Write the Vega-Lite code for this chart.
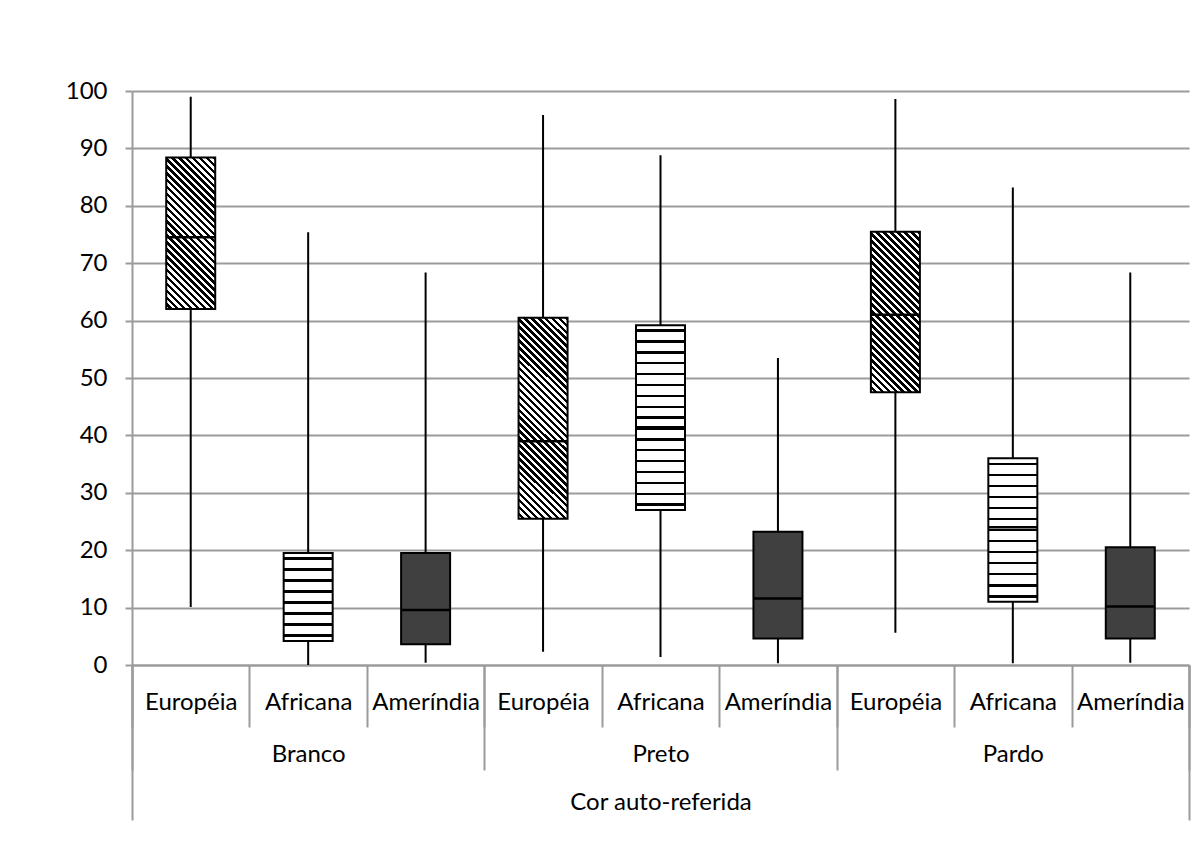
{
"$schema":"https://vega.github.io/schema/vega-lite/v6.json",
"width":1057,"height":574,
"padding":{"left":65,"top":79,"right":8,"bottom":5},
"background":"white",
"config":{"font":"Lato","view":{"stroke":null},"axis":{"labelFont":"Lato","labelColor":"#000","labelLimit":0}},
"data":{"values":[
{"grupo":"Branco","ancestria":"Européia","key":"Branco|Européia","min":10.1,"q1":62,"med":74.5,"q3":88.4,"max":99},
{"grupo":"Branco","ancestria":"Africana","key":"Branco|Africana","min":0,"q1":4.2,"med":10.9,"q3":19.5,"max":75.4},
{"grupo":"Branco","ancestria":"Ameríndia","key":"Branco|Ameríndia","min":0.4,"q1":3.6,"med":9.6,"q3":19.5,"max":68.4},
{"grupo":"Preto","ancestria":"Européia","key":"Preto|Européia","min":2.3,"q1":25.5,"med":39,"q3":60.5,"max":95.8},
{"grupo":"Preto","ancestria":"Africana","key":"Preto|Africana","min":1.4,"q1":27,"med":41.4,"q3":59.2,"max":88.8},
{"grupo":"Preto","ancestria":"Ameríndia","key":"Preto|Ameríndia","min":0.3,"q1":4.6,"med":11.6,"q3":23.2,"max":53.5},
{"grupo":"Pardo","ancestria":"Européia","key":"Pardo|Européia","min":5.6,"q1":47.5,"med":61,"q3":75.5,"max":98.6},
{"grupo":"Pardo","ancestria":"Africana","key":"Pardo|Africana","min":0.3,"q1":11,"med":24,"q3":36,"max":83.2},
{"grupo":"Pardo","ancestria":"Ameríndia","key":"Pardo|Ameríndia","min":0.4,"q1":4.6,"med":10.2,"q3":20.5,"max":68.4}
]},
"layer":[
{"layer":[
{"mark":{"type":"rule","color":"#000","strokeWidth":2},
 "encoding":{
  "x":{"field":"key","type":"nominal","scale":{"type":"band","domain":["Branco|Européia","Branco|Africana","Branco|Ameríndia","Preto|Européia","Preto|Africana","Preto|Ameríndia","Pardo|Européia","Pardo|Africana","Pardo|Ameríndia"],"paddingInner":0,"paddingOuter":0},
   "axis":{"orient":"bottom","title":null,"labelExpr":"split(datum.label,'|')[1]","labelAngle":0,"labelFontSize":24,"labelPadding":-37,"labelOverlap":false,"labelLimit":0,"tickBand":"extent","tickSize":62,"tickColor":"#9b9b9b","tickWidth":2,"domainColor":"#9b9b9b","domainWidth":2,"grid":false}},
  "y":{"field":"min","type":"quantitative","scale":{"domain":[0,100],"nice":false,"zero":true},
   "axis":{"title":null,"values":[0,10,20,30,40,50,60,70,80,90,100],"grid":true,"gridColor":"#9b9b9b","gridWidth":2,"domainColor":"#9b9b9b","domainWidth":2,"tickColor":"#9b9b9b","tickWidth":2,"tickSize":7,"labelPadding":18,"labelFontSize":24}},
  "y2":{"field":"max"}}},
{"transform":[{"filter":"datum.key==='Branco|Européia'"}],
 "mark":{"type":"bar","stroke":"#000","strokeWidth":2,"fill":{"gradient":"linear","x1":0,"y1":1,"x2":0.3875,"y2":-0.1981,"stops":[
{"offset":0,"color":"#fff"},{"offset":0.0172,"color":"#fff"},{"offset":0.0172,"color":"#000"},{"offset":0.0345,"color":"#000"},
{"offset":0.0345,"color":"#fff"},{"offset":0.0517,"color":"#fff"},{"offset":0.0517,"color":"#000"},{"offset":0.0690,"color":"#000"},
{"offset":0.0690,"color":"#fff"},{"offset":0.0862,"color":"#fff"},{"offset":0.0862,"color":"#000"},{"offset":0.1034,"color":"#000"},
{"offset":0.1034,"color":"#fff"},{"offset":0.1207,"color":"#fff"},{"offset":0.1207,"color":"#000"},{"offset":0.1379,"color":"#000"},
{"offset":0.1379,"color":"#fff"},{"offset":0.1552,"color":"#fff"},{"offset":0.1552,"color":"#000"},{"offset":0.1724,"color":"#000"},
{"offset":0.1724,"color":"#fff"},{"offset":0.1897,"color":"#fff"},{"offset":0.1897,"color":"#000"},{"offset":0.2069,"color":"#000"},
{"offset":0.2069,"color":"#fff"},{"offset":0.2241,"color":"#fff"},{"offset":0.2241,"color":"#000"},{"offset":0.2414,"color":"#000"},
{"offset":0.2414,"color":"#fff"},{"offset":0.2586,"color":"#fff"},{"offset":0.2586,"color":"#000"},{"offset":0.2759,"color":"#000"},
{"offset":0.2759,"color":"#fff"},{"offset":0.2931,"color":"#fff"},{"offset":0.2931,"color":"#000"},{"offset":0.3103,"color":"#000"},
{"offset":0.3103,"color":"#fff"},{"offset":0.3276,"color":"#fff"},{"offset":0.3276,"color":"#000"},{"offset":0.3448,"color":"#000"},
{"offset":0.3448,"color":"#fff"},{"offset":0.3621,"color":"#fff"},{"offset":0.3621,"color":"#000"},{"offset":0.3793,"color":"#000"},
{"offset":0.3793,"color":"#fff"},{"offset":0.3966,"color":"#fff"},{"offset":0.3966,"color":"#000"},{"offset":0.4138,"color":"#000"},
{"offset":0.4138,"color":"#fff"},{"offset":0.4310,"color":"#fff"},{"offset":0.4310,"color":"#000"},{"offset":0.4483,"color":"#000"},
{"offset":0.4483,"color":"#fff"},{"offset":0.4655,"color":"#fff"},{"offset":0.4655,"color":"#000"},{"offset":0.4828,"color":"#000"},
{"offset":0.4828,"color":"#fff"},{"offset":0.5,"color":"#fff"},{"offset":0.5,"color":"#000"},{"offset":0.5172,"color":"#000"},
{"offset":0.5172,"color":"#fff"},{"offset":0.5345,"color":"#fff"},{"offset":0.5345,"color":"#000"},{"offset":0.5517,"color":"#000"},
{"offset":0.5517,"color":"#fff"},{"offset":0.5690,"color":"#fff"},{"offset":0.5690,"color":"#000"},{"offset":0.5862,"color":"#000"},
{"offset":0.5862,"color":"#fff"},{"offset":0.6034,"color":"#fff"},{"offset":0.6034,"color":"#000"},{"offset":0.6207,"color":"#000"},
{"offset":0.6207,"color":"#fff"},{"offset":0.6379,"color":"#fff"},{"offset":0.6379,"color":"#000"},{"offset":0.6552,"color":"#000"},
{"offset":0.6552,"color":"#fff"},{"offset":0.6724,"color":"#fff"},{"offset":0.6724,"color":"#000"},{"offset":0.6897,"color":"#000"},
{"offset":0.6897,"color":"#fff"},{"offset":0.7069,"color":"#fff"},{"offset":0.7069,"color":"#000"},{"offset":0.7241,"color":"#000"},
{"offset":0.7241,"color":"#fff"},{"offset":0.7414,"color":"#fff"},{"offset":0.7414,"color":"#000"},{"offset":0.7586,"color":"#000"},
{"offset":0.7586,"color":"#fff"},{"offset":0.7759,"color":"#fff"},{"offset":0.7759,"color":"#000"},{"offset":0.7931,"color":"#000"},
{"offset":0.7931,"color":"#fff"},{"offset":0.8103,"color":"#fff"},{"offset":0.8103,"color":"#000"},{"offset":0.8276,"color":"#000"},
{"offset":0.8276,"color":"#fff"},{"offset":0.8448,"color":"#fff"},{"offset":0.8448,"color":"#000"},{"offset":0.8621,"color":"#000"},
{"offset":0.8621,"color":"#fff"},{"offset":0.8793,"color":"#fff"},{"offset":0.8793,"color":"#000"},{"offset":0.8966,"color":"#000"},
{"offset":0.8966,"color":"#fff"},{"offset":0.9138,"color":"#fff"},{"offset":0.9138,"color":"#000"},{"offset":0.9310,"color":"#000"},
{"offset":0.9310,"color":"#fff"},{"offset":0.9483,"color":"#fff"},{"offset":0.9483,"color":"#000"},{"offset":0.9655,"color":"#000"},
{"offset":0.9655,"color":"#fff"},{"offset":0.9828,"color":"#fff"},{"offset":0.9828,"color":"#000"},{"offset":1,"color":"#000"}
]}},
 "encoding":{"x":{"field":"key","type":"nominal","scale":{"type":"band"}},"y":{"field":"q1","type":"quantitative"},"y2":{"field":"q3"},"size":{"value":49}}},
{"transform":[{"filter":"datum.key==='Preto|Européia'"}],
 "mark":{"type":"bar","stroke":"#000","strokeWidth":2,"fill":{"gradient":"linear","x1":0,"y1":1,"x2":0.2854,"y2":-0.1738,"stops":[
{"offset":0,"color":"#fff"},{"offset":0.0139,"color":"#fff"},{"offset":0.0139,"color":"#000"},{"offset":0.0278,"color":"#000"},
{"offset":0.0278,"color":"#fff"},{"offset":0.0417,"color":"#fff"},{"offset":0.0417,"color":"#000"},{"offset":0.0556,"color":"#000"},
{"offset":0.0556,"color":"#fff"},{"offset":0.0694,"color":"#fff"},{"offset":0.0694,"color":"#000"},{"offset":0.0833,"color":"#000"},
{"offset":0.0833,"color":"#fff"},{"offset":0.0972,"color":"#fff"},{"offset":0.0972,"color":"#000"},{"offset":0.1111,"color":"#000"},
{"offset":0.1111,"color":"#fff"},{"offset":0.125,"color":"#fff"},{"offset":0.125,"color":"#000"},{"offset":0.1389,"color":"#000"},
{"offset":0.1389,"color":"#fff"},{"offset":0.1528,"color":"#fff"},{"offset":0.1528,"color":"#000"},{"offset":0.1667,"color":"#000"},
{"offset":0.1667,"color":"#fff"},{"offset":0.1806,"color":"#fff"},{"offset":0.1806,"color":"#000"},{"offset":0.1944,"color":"#000"},
{"offset":0.1944,"color":"#fff"},{"offset":0.2083,"color":"#fff"},{"offset":0.2083,"color":"#000"},{"offset":0.2222,"color":"#000"},
{"offset":0.2222,"color":"#fff"},{"offset":0.2361,"color":"#fff"},{"offset":0.2361,"color":"#000"},{"offset":0.25,"color":"#000"},
{"offset":0.25,"color":"#fff"},{"offset":0.2639,"color":"#fff"},{"offset":0.2639,"color":"#000"},{"offset":0.2778,"color":"#000"},
{"offset":0.2778,"color":"#fff"},{"offset":0.2917,"color":"#fff"},{"offset":0.2917,"color":"#000"},{"offset":0.3056,"color":"#000"},
{"offset":0.3056,"color":"#fff"},{"offset":0.3194,"color":"#fff"},{"offset":0.3194,"color":"#000"},{"offset":0.3333,"color":"#000"},
{"offset":0.3333,"color":"#fff"},{"offset":0.3472,"color":"#fff"},{"offset":0.3472,"color":"#000"},{"offset":0.3611,"color":"#000"},
{"offset":0.3611,"color":"#fff"},{"offset":0.375,"color":"#fff"},{"offset":0.375,"color":"#000"},{"offset":0.3889,"color":"#000"},
{"offset":0.3889,"color":"#fff"},{"offset":0.4028,"color":"#fff"},{"offset":0.4028,"color":"#000"},{"offset":0.4167,"color":"#000"},
{"offset":0.4167,"color":"#fff"},{"offset":0.4306,"color":"#fff"},{"offset":0.4306,"color":"#000"},{"offset":0.4444,"color":"#000"},
{"offset":0.4444,"color":"#fff"},{"offset":0.4583,"color":"#fff"},{"offset":0.4583,"color":"#000"},{"offset":0.4722,"color":"#000"},
{"offset":0.4722,"color":"#fff"},{"offset":0.4861,"color":"#fff"},{"offset":0.4861,"color":"#000"},{"offset":0.5,"color":"#000"},
{"offset":0.5,"color":"#fff"},{"offset":0.5139,"color":"#fff"},{"offset":0.5139,"color":"#000"},{"offset":0.5278,"color":"#000"},
{"offset":0.5278,"color":"#fff"},{"offset":0.5417,"color":"#fff"},{"offset":0.5417,"color":"#000"},{"offset":0.5556,"color":"#000"},
{"offset":0.5556,"color":"#fff"},{"offset":0.5694,"color":"#fff"},{"offset":0.5694,"color":"#000"},{"offset":0.5833,"color":"#000"},
{"offset":0.5833,"color":"#fff"},{"offset":0.5972,"color":"#fff"},{"offset":0.5972,"color":"#000"},{"offset":0.6111,"color":"#000"},
{"offset":0.6111,"color":"#fff"},{"offset":0.625,"color":"#fff"},{"offset":0.625,"color":"#000"},{"offset":0.6389,"color":"#000"},
{"offset":0.6389,"color":"#fff"},{"offset":0.6528,"color":"#fff"},{"offset":0.6528,"color":"#000"},{"offset":0.6667,"color":"#000"},
{"offset":0.6667,"color":"#fff"},{"offset":0.6806,"color":"#fff"},{"offset":0.6806,"color":"#000"},{"offset":0.6944,"color":"#000"},
{"offset":0.6944,"color":"#fff"},{"offset":0.7083,"color":"#fff"},{"offset":0.7083,"color":"#000"},{"offset":0.7222,"color":"#000"},
{"offset":0.7222,"color":"#fff"},{"offset":0.7361,"color":"#fff"},{"offset":0.7361,"color":"#000"},{"offset":0.75,"color":"#000"},
{"offset":0.75,"color":"#fff"},{"offset":0.7639,"color":"#fff"},{"offset":0.7639,"color":"#000"},{"offset":0.7778,"color":"#000"},
{"offset":0.7778,"color":"#fff"},{"offset":0.7917,"color":"#fff"},{"offset":0.7917,"color":"#000"},{"offset":0.8056,"color":"#000"},
{"offset":0.8056,"color":"#fff"},{"offset":0.8194,"color":"#fff"},{"offset":0.8194,"color":"#000"},{"offset":0.8333,"color":"#000"},
{"offset":0.8333,"color":"#fff"},{"offset":0.8472,"color":"#fff"},{"offset":0.8472,"color":"#000"},{"offset":0.8611,"color":"#000"},
{"offset":0.8611,"color":"#fff"},{"offset":0.875,"color":"#fff"},{"offset":0.875,"color":"#000"},{"offset":0.8889,"color":"#000"},
{"offset":0.8889,"color":"#fff"},{"offset":0.9028,"color":"#fff"},{"offset":0.9028,"color":"#000"},{"offset":0.9167,"color":"#000"},
{"offset":0.9167,"color":"#fff"},{"offset":0.9306,"color":"#fff"},{"offset":0.9306,"color":"#000"},{"offset":0.9444,"color":"#000"},
{"offset":0.9444,"color":"#fff"},{"offset":0.9583,"color":"#fff"},{"offset":0.9583,"color":"#000"},{"offset":0.9722,"color":"#000"},
{"offset":0.9722,"color":"#fff"},{"offset":0.9861,"color":"#fff"},{"offset":0.9861,"color":"#000"},{"offset":1,"color":"#000"}
]}},
 "encoding":{"x":{"field":"key","type":"nominal","scale":{"type":"band"}},"y":{"field":"q1","type":"quantitative"},"y2":{"field":"q3"},"size":{"value":49}}},
{"transform":[{"filter":"datum.key==='Pardo|Européia'"}],
 "mark":{"type":"bar","stroke":"#000","strokeWidth":2,"fill":{"gradient":"linear","x1":0,"y1":1,"x2":0.3641,"y2":-0.1939,"stops":[
{"offset":0,"color":"#fff"},{"offset":0.0167,"color":"#fff"},{"offset":0.0167,"color":"#000"},{"offset":0.0333,"color":"#000"},
{"offset":0.0333,"color":"#fff"},{"offset":0.05,"color":"#fff"},{"offset":0.05,"color":"#000"},{"offset":0.0667,"color":"#000"},
{"offset":0.0667,"color":"#fff"},{"offset":0.0833,"color":"#fff"},{"offset":0.0833,"color":"#000"},{"offset":0.1,"color":"#000"},
{"offset":0.1,"color":"#fff"},{"offset":0.1167,"color":"#fff"},{"offset":0.1167,"color":"#000"},{"offset":0.1333,"color":"#000"},
{"offset":0.1333,"color":"#fff"},{"offset":0.15,"color":"#fff"},{"offset":0.15,"color":"#000"},{"offset":0.1667,"color":"#000"},
{"offset":0.1667,"color":"#fff"},{"offset":0.1833,"color":"#fff"},{"offset":0.1833,"color":"#000"},{"offset":0.2,"color":"#000"},
{"offset":0.2,"color":"#fff"},{"offset":0.2167,"color":"#fff"},{"offset":0.2167,"color":"#000"},{"offset":0.2333,"color":"#000"},
{"offset":0.2333,"color":"#fff"},{"offset":0.25,"color":"#fff"},{"offset":0.25,"color":"#000"},{"offset":0.2667,"color":"#000"},
{"offset":0.2667,"color":"#fff"},{"offset":0.2833,"color":"#fff"},{"offset":0.2833,"color":"#000"},{"offset":0.3,"color":"#000"},
{"offset":0.3,"color":"#fff"},{"offset":0.3167,"color":"#fff"},{"offset":0.3167,"color":"#000"},{"offset":0.3333,"color":"#000"},
{"offset":0.3333,"color":"#fff"},{"offset":0.35,"color":"#fff"},{"offset":0.35,"color":"#000"},{"offset":0.3667,"color":"#000"},
{"offset":0.3667,"color":"#fff"},{"offset":0.3833,"color":"#fff"},{"offset":0.3833,"color":"#000"},{"offset":0.4,"color":"#000"},
{"offset":0.4,"color":"#fff"},{"offset":0.4167,"color":"#fff"},{"offset":0.4167,"color":"#000"},{"offset":0.4333,"color":"#000"},
{"offset":0.4333,"color":"#fff"},{"offset":0.45,"color":"#fff"},{"offset":0.45,"color":"#000"},{"offset":0.4667,"color":"#000"},
{"offset":0.4667,"color":"#fff"},{"offset":0.4833,"color":"#fff"},{"offset":0.4833,"color":"#000"},{"offset":0.5,"color":"#000"},
{"offset":0.5,"color":"#fff"},{"offset":0.5167,"color":"#fff"},{"offset":0.5167,"color":"#000"},{"offset":0.5333,"color":"#000"},
{"offset":0.5333,"color":"#fff"},{"offset":0.55,"color":"#fff"},{"offset":0.55,"color":"#000"},{"offset":0.5667,"color":"#000"},
{"offset":0.5667,"color":"#fff"},{"offset":0.5833,"color":"#fff"},{"offset":0.5833,"color":"#000"},{"offset":0.6,"color":"#000"},
{"offset":0.6,"color":"#fff"},{"offset":0.6167,"color":"#fff"},{"offset":0.6167,"color":"#000"},{"offset":0.6333,"color":"#000"},
{"offset":0.6333,"color":"#fff"},{"offset":0.65,"color":"#fff"},{"offset":0.65,"color":"#000"},{"offset":0.6667,"color":"#000"},
{"offset":0.6667,"color":"#fff"},{"offset":0.6833,"color":"#fff"},{"offset":0.6833,"color":"#000"},{"offset":0.7,"color":"#000"},
{"offset":0.7,"color":"#fff"},{"offset":0.7167,"color":"#fff"},{"offset":0.7167,"color":"#000"},{"offset":0.7333,"color":"#000"},
{"offset":0.7333,"color":"#fff"},{"offset":0.75,"color":"#fff"},{"offset":0.75,"color":"#000"},{"offset":0.7667,"color":"#000"},
{"offset":0.7667,"color":"#fff"},{"offset":0.7833,"color":"#fff"},{"offset":0.7833,"color":"#000"},{"offset":0.8,"color":"#000"},
{"offset":0.8,"color":"#fff"},{"offset":0.8167,"color":"#fff"},{"offset":0.8167,"color":"#000"},{"offset":0.8333,"color":"#000"},
{"offset":0.8333,"color":"#fff"},{"offset":0.85,"color":"#fff"},{"offset":0.85,"color":"#000"},{"offset":0.8667,"color":"#000"},
{"offset":0.8667,"color":"#fff"},{"offset":0.8833,"color":"#fff"},{"offset":0.8833,"color":"#000"},{"offset":0.9,"color":"#000"},
{"offset":0.9,"color":"#fff"},{"offset":0.9167,"color":"#fff"},{"offset":0.9167,"color":"#000"},{"offset":0.9333,"color":"#000"},
{"offset":0.9333,"color":"#fff"},{"offset":0.95,"color":"#fff"},{"offset":0.95,"color":"#000"},{"offset":0.9667,"color":"#000"},
{"offset":0.9667,"color":"#fff"},{"offset":0.9833,"color":"#fff"},{"offset":0.9833,"color":"#000"},{"offset":1,"color":"#000"}
]}},
 "encoding":{"x":{"field":"key","type":"nominal","scale":{"type":"band"}},"y":{"field":"q1","type":"quantitative"},"y2":{"field":"q3"},"size":{"value":49}}},
{"transform":[{"filter":"datum.key==='Branco|Africana'"}],
 "mark":{"type":"bar","stroke":"#000","strokeWidth":2,"fill":{"gradient":"linear","x1":0,"y1":0,"x2":0,"y2":1,"stops":[
{"offset":0,"color":"#fff"},
{"offset":0.0490,"color":"#fff"},{"offset":0.0490,"color":"#000"},{"offset":0.0760,"color":"#000"},{"offset":0.0760,"color":"#fff"},
{"offset":0.1740,"color":"#fff"},{"offset":0.1740,"color":"#000"},{"offset":0.2010,"color":"#000"},{"offset":0.2010,"color":"#fff"},
{"offset":0.2990,"color":"#fff"},{"offset":0.2990,"color":"#000"},{"offset":0.3260,"color":"#000"},{"offset":0.3260,"color":"#fff"},
{"offset":0.4240,"color":"#fff"},{"offset":0.4240,"color":"#000"},{"offset":0.4510,"color":"#000"},{"offset":0.4510,"color":"#fff"},
{"offset":0.5490,"color":"#fff"},{"offset":0.5490,"color":"#000"},{"offset":0.5760,"color":"#000"},{"offset":0.5760,"color":"#fff"},
{"offset":0.6740,"color":"#fff"},{"offset":0.6740,"color":"#000"},{"offset":0.7010,"color":"#000"},{"offset":0.7010,"color":"#fff"},
{"offset":0.7990,"color":"#fff"},{"offset":0.7990,"color":"#000"},{"offset":0.8260,"color":"#000"},{"offset":0.8260,"color":"#fff"},
{"offset":0.9240,"color":"#fff"},{"offset":0.9240,"color":"#000"},{"offset":0.9510,"color":"#000"},{"offset":0.9510,"color":"#fff"},
{"offset":1,"color":"#fff"}
]}},
 "encoding":{"x":{"field":"key","type":"nominal","scale":{"type":"band"}},"y":{"field":"q1","type":"quantitative"},"y2":{"field":"q3"},"size":{"value":49}}},
{"transform":[{"filter":"datum.key==='Preto|Africana'"}],
 "mark":{"type":"bar","stroke":"#000","strokeWidth":2,"fill":{"gradient":"linear","x1":0,"y1":0,"x2":0,"y2":1,"stops":[
{"offset":0,"color":"#fff"},
{"offset":0.0229,"color":"#fff"},{"offset":0.0229,"color":"#000"},{"offset":0.0359,"color":"#000"},{"offset":0.0359,"color":"#fff"},
{"offset":0.0817,"color":"#fff"},{"offset":0.0817,"color":"#000"},{"offset":0.0947,"color":"#000"},{"offset":0.0947,"color":"#fff"},
{"offset":0.1406,"color":"#fff"},{"offset":0.1406,"color":"#000"},{"offset":0.1535,"color":"#000"},{"offset":0.1535,"color":"#fff"},
{"offset":0.1994,"color":"#fff"},{"offset":0.1994,"color":"#000"},{"offset":0.2124,"color":"#000"},{"offset":0.2124,"color":"#fff"},
{"offset":0.2582,"color":"#fff"},{"offset":0.2582,"color":"#000"},{"offset":0.2712,"color":"#000"},{"offset":0.2712,"color":"#fff"},
{"offset":0.3170,"color":"#fff"},{"offset":0.3170,"color":"#000"},{"offset":0.3300,"color":"#000"},{"offset":0.3300,"color":"#fff"},
{"offset":0.3758,"color":"#fff"},{"offset":0.3758,"color":"#000"},{"offset":0.3888,"color":"#000"},{"offset":0.3888,"color":"#fff"},
{"offset":0.4347,"color":"#fff"},{"offset":0.4347,"color":"#000"},{"offset":0.4477,"color":"#000"},{"offset":0.4477,"color":"#fff"},
{"offset":0.4935,"color":"#fff"},{"offset":0.4935,"color":"#000"},{"offset":0.5065,"color":"#000"},{"offset":0.5065,"color":"#fff"},
{"offset":0.5523,"color":"#fff"},{"offset":0.5523,"color":"#000"},{"offset":0.5653,"color":"#000"},{"offset":0.5653,"color":"#fff"},
{"offset":0.6111,"color":"#fff"},{"offset":0.6111,"color":"#000"},{"offset":0.6241,"color":"#000"},{"offset":0.6241,"color":"#fff"},
{"offset":0.6700,"color":"#fff"},{"offset":0.6700,"color":"#000"},{"offset":0.6830,"color":"#000"},{"offset":0.6830,"color":"#fff"},
{"offset":0.7288,"color":"#fff"},{"offset":0.7288,"color":"#000"},{"offset":0.7418,"color":"#000"},{"offset":0.7418,"color":"#fff"},
{"offset":0.7876,"color":"#fff"},{"offset":0.7876,"color":"#000"},{"offset":0.8006,"color":"#000"},{"offset":0.8006,"color":"#fff"},
{"offset":0.8464,"color":"#fff"},{"offset":0.8464,"color":"#000"},{"offset":0.8594,"color":"#000"},{"offset":0.8594,"color":"#fff"},
{"offset":0.9053,"color":"#fff"},{"offset":0.9053,"color":"#000"},{"offset":0.9183,"color":"#000"},{"offset":0.9183,"color":"#fff"},
{"offset":0.9641,"color":"#fff"},{"offset":0.9641,"color":"#000"},{"offset":0.9771,"color":"#000"},{"offset":0.9771,"color":"#fff"},
{"offset":1,"color":"#fff"}
]}},
 "encoding":{"x":{"field":"key","type":"nominal","scale":{"type":"band"}},"y":{"field":"q1","type":"quantitative"},"y2":{"field":"q3"},"size":{"value":49}}},
{"transform":[{"filter":"datum.key==='Pardo|Africana'"}],
 "mark":{"type":"bar","stroke":"#000","strokeWidth":2,"fill":{"gradient":"linear","x1":0,"y1":0,"x2":0,"y2":1,"stops":[
{"offset":0,"color":"#fff"},
{"offset":0.0300,"color":"#fff"},{"offset":0.0300,"color":"#000"},{"offset":0.0469,"color":"#000"},{"offset":0.0469,"color":"#fff"},
{"offset":0.1069,"color":"#fff"},{"offset":0.1069,"color":"#000"},{"offset":0.1238,"color":"#000"},{"offset":0.1238,"color":"#fff"},
{"offset":0.1838,"color":"#fff"},{"offset":0.1838,"color":"#000"},{"offset":0.2008,"color":"#000"},{"offset":0.2008,"color":"#fff"},
{"offset":0.2608,"color":"#fff"},{"offset":0.2608,"color":"#000"},{"offset":0.2777,"color":"#000"},{"offset":0.2777,"color":"#fff"},
{"offset":0.3377,"color":"#fff"},{"offset":0.3377,"color":"#000"},{"offset":0.3546,"color":"#000"},{"offset":0.3546,"color":"#fff"},
{"offset":0.4146,"color":"#fff"},{"offset":0.4146,"color":"#000"},{"offset":0.4315,"color":"#000"},{"offset":0.4315,"color":"#fff"},
{"offset":0.4915,"color":"#fff"},{"offset":0.4915,"color":"#000"},{"offset":0.5085,"color":"#000"},{"offset":0.5085,"color":"#fff"},
{"offset":0.5685,"color":"#fff"},{"offset":0.5685,"color":"#000"},{"offset":0.5854,"color":"#000"},{"offset":0.5854,"color":"#fff"},
{"offset":0.6454,"color":"#fff"},{"offset":0.6454,"color":"#000"},{"offset":0.6623,"color":"#000"},{"offset":0.6623,"color":"#fff"},
{"offset":0.7223,"color":"#fff"},{"offset":0.7223,"color":"#000"},{"offset":0.7392,"color":"#000"},{"offset":0.7392,"color":"#fff"},
{"offset":0.7992,"color":"#fff"},{"offset":0.7992,"color":"#000"},{"offset":0.8162,"color":"#000"},{"offset":0.8162,"color":"#fff"},
{"offset":0.8762,"color":"#fff"},{"offset":0.8762,"color":"#000"},{"offset":0.8931,"color":"#000"},{"offset":0.8931,"color":"#fff"},
{"offset":0.9531,"color":"#fff"},{"offset":0.9531,"color":"#000"},{"offset":0.9700,"color":"#000"},{"offset":0.9700,"color":"#fff"},
{"offset":1,"color":"#fff"}
]}},
 "encoding":{"x":{"field":"key","type":"nominal","scale":{"type":"band"}},"y":{"field":"q1","type":"quantitative"},"y2":{"field":"q3"},"size":{"value":49}}},
{"transform":[{"filter":"datum.ancestria==='Ameríndia'"}],
 "mark":{"type":"bar","stroke":"#000","strokeWidth":2,"fill":"#404040"},
 "encoding":{"x":{"field":"key","type":"nominal","scale":{"type":"band"}},"y":{"field":"q1","type":"quantitative"},"y2":{"field":"q3"},"size":{"value":49}}},
{"mark":{"type":"tick","color":"#000","opacity":1,"thickness":2.5,"size":49},
 "encoding":{"x":{"field":"key","type":"nominal","scale":{"type":"band"}},"y":{"field":"med","type":"quantitative"}}}
]},
{"mark":{"type":"text","text":""},
 "encoding":{"x":{"field":"grupo","type":"nominal","scale":{"type":"band","domain":["Branco","Preto","Pardo"],"paddingInner":0,"paddingOuter":0},
  "axis":{"orient":"bottom","title":null,"labelAngle":0,"labelFontSize":24,"labelPadding":-28,"labelOverlap":false,"labelLimit":0,"tickBand":"extent","tickSize":105,"tickColor":"#9b9b9b","tickWidth":2,"domain":false,"grid":false}}}},
{"data":{"values":[{"titulo":"Cor auto-referida"}]},
 "mark":{"type":"text","text":""},
 "encoding":{"x":{"field":"titulo","type":"nominal","scale":{"type":"band","paddingInner":0,"paddingOuter":0},
  "axis":{"orient":"bottom","title":null,"labelAngle":0,"labelFontSize":24,"labelPadding":-30,"labelOverlap":false,"labelLimit":0,"tickBand":"extent","tickSize":155,"tickColor":"#9b9b9b","tickWidth":2,"domain":false,"grid":false}}}}
],
"resolve":{"scale":{"x":"independent"},"axis":{"x":"independent"}}
}
